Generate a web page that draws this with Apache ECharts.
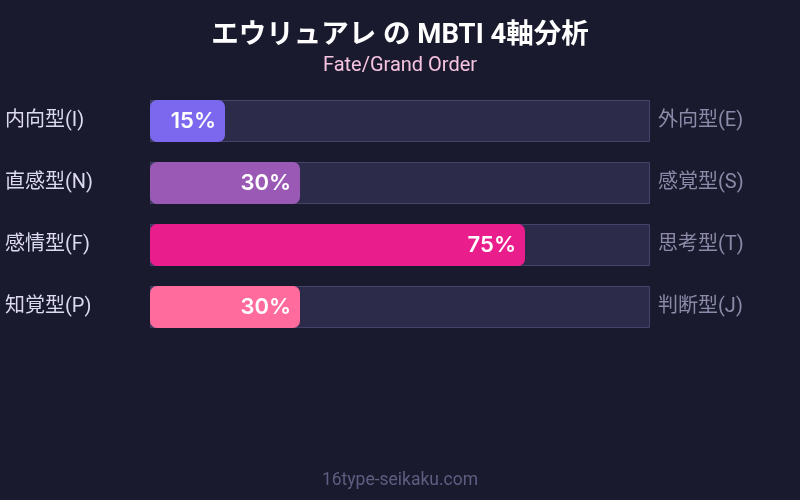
<!DOCTYPE html>
<html>
<head>
<meta charset="utf-8">
<script src="https://cdn.jsdelivr.net/npm/echarts@6/dist/echarts.min.js"></script>
<style>
  html, body { margin: 0; padding: 0; background: #1a1a2e; }
  #main { width: 800px; height: 500px; }
</style>
</head>
<body>
<div id="main"></div>
<script>
// data
const leftTypes = ['内向型(I)', '直感型(N)', '感情型(F)', '知覚型(P)'];
const rightTypes = ['外向型(E)', '感覚型(S)', '思考型(T)', '判断型(J)'];
const scores = [15, 30, 75, 30];
const trackValues = [100, 100, 100, 100];
const barColors = ['#7b68ee', '#9b59b6', '#e91e8c', '#ff6b9d'];

const FONT = 'Roboto, "Noto Sans CJK JP", sans-serif';

const chart = echarts.init(document.getElementById('main'));

const option = {
  backgroundColor: '#1a1a2e',
  animation: false,
  title: [
    {
      text: 'エウリュアレ の MBTI 4軸分析',
      subtext: 'Fate/Grand Order',
      left: 'center',
      top: 17,
      itemGap: 7,
      textStyle: { color: '#ffffff', fontSize: 27.5, fontWeight: 'bold', fontFamily: FONT },
      subtextStyle: { color: '#f6c3e0', fontSize: 20, fontFamily: FONT }
    },
    {
      text: '16type-seikaku.com',
      left: 'center',
      bottom: 6,
      textStyle: { color: '#5f5d80', fontSize: 17.5, fontWeight: 'normal', fontFamily: FONT }
    }
  ],
  grid: { left: 150, right: 150, top: 90, height: 248 },
  xAxis: { type: 'value', min: 0, max: 100, show: false },
  yAxis: [
    {
      type: 'category',
      data: leftTypes,
      inverse: true,
      position: 'left',
      axisLine: { show: false },
      axisTick: { show: false },
      axisLabel: {
        align: 'left',
        margin: 145,
        color: '#dcdaf0',
        fontSize: 20,
        fontFamily: FONT
      }
    },
    {
      type: 'category',
      data: rightTypes,
      inverse: true,
      position: 'right',
      axisLine: { show: false },
      axisTick: { show: false },
      axisLabel: {
        align: 'left',
        margin: 8,
        color: '#8c8aa8',
        fontSize: 20,
        fontFamily: FONT
      }
    }
  ],
  series: [
    {
      type: 'bar',
      data: trackValues,
      barWidth: 42,
      silent: true,
      itemStyle: { color: '#2d2b4a', borderColor: '#45436a', borderWidth: 1 },
      z: 1
    },
    {
      type: 'bar',
      data: scores.map((v, i) => ({ value: v, itemStyle: { color: barColors[i] } })),
      barWidth: 42,
      barGap: '-100%',
      itemStyle: { borderRadius: 7 },
      label: {
        show: true,
        position: 'insideRight',
        distance: 9,
        formatter: '{c}%',
        color: '#ffffff',
        fontSize: 22,
        fontWeight: 600,
        fontFamily: 'Inter, Roboto, sans-serif'
      },
      z: 2
    }
  ]
};

chart.setOption(option);
</script>
</body>
</html>
